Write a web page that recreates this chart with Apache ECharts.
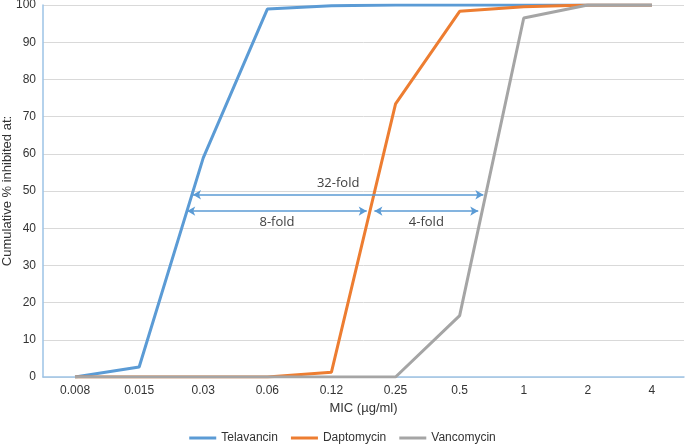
<!DOCTYPE html>
<html>
<head>
<meta charset="utf-8">
<script src="https://cdn.jsdelivr.net/npm/echarts@6/dist/echarts.min.js"></script>
<style>
  html, body { margin: 0; padding: 0; background: #fff; }
  #chart { width: 685px; height: 447px; }
</style>
</head>
<body>
<div id="chart"></div>
<script>
var micLabels = ['0.008', '0.015', '0.03', '0.06', '0.12', '0.25', '0.5', '1', '2', '4'];
var telavancin = [0, 2.7, 58.9, 98.9, 99.8, 100, 100, 100, 100, 100];
var daptomycin = [0, 0, 0, 0, 1.3, 73.4, 98.3, 99.5, 100, 100];
var vancomycin = [0, 0, 0, 0, 0, 0, 16.5, 96.5, 100, 100];

// fold-difference arrows, x in category index units
var folds = [
    { name: '32-fold', from: 1.84, to: 6.37, y: 49, pos: 'insideMiddleTop' },
    { name: '8-fold', from: 1.75, to: 4.55, y: 44.6, pos: 'insideMiddleBottom' },
    { name: '4-fold', from: 4.67, to: 6.29, y: 44.6, pos: 'insideMiddleBottom' }
];

var axisBlue = '#9DC3E6';
var textColor = '#333';

var chart = echarts.init(document.getElementById('chart'));

function lineSeries(name, data, color) {
    return {
        name: name,
        type: 'line',
        data: data,
        symbol: 'none',
        lineStyle: { color: color, width: 3 },
        itemStyle: { color: color },
        z: 3
    };
}

var option = {
    animation: false,
    textStyle: { fontFamily: 'Liberation Sans, Arial, sans-serif' },
    grid: { left: 43, right: 1, top: 5, bottom: 70, outerBoundsMode: 'none', containLabel: false },
    legend: {
        top: 427,
        left: 'center',
        icon: 'rect',
        itemWidth: 27,
        itemHeight: 3,
        itemGap: 13,
        textStyle: { color: textColor, fontSize: 12 },
        data: ['Telavancin', 'Daptomycin', 'Vancomycin']
    },
    xAxis: {
        type: 'category',
        data: micLabels,
        boundaryGap: true,
        name: 'MIC (\u00b5g/ml)',
        nameLocation: 'middle',
        nameGap: 25,
        nameMoveOverlap: false,
        nameTextStyle: { color: textColor, fontSize: 13 },
        axisLine: { lineStyle: { color: axisBlue, width: 1.5 } },
        axisTick: { show: false },
        axisLabel: { color: textColor, fontSize: 12, margin: 8 },
        splitLine: { show: false }
    },
    yAxis: {
        type: 'value',
        min: 0,
        max: 100,
        interval: 10,
        name: 'Cumulative % inhibited at:',
        nameLocation: 'middle',
        nameGap: 29,
        nameMoveOverlap: false,
        nameTextStyle: { color: textColor, fontSize: 13 },
        axisLine: { show: true, onZero: false, lineStyle: { color: axisBlue, width: 1.5 } },
        axisTick: { show: false },
        axisLabel: { color: textColor, fontSize: 12, margin: 7 },
        splitLine: { lineStyle: { color: '#D9D9D9' } }
    },
    series: [
        lineSeries('Telavancin', telavancin, '#5B9BD5'),
        lineSeries('Daptomycin', daptomycin, '#ED7D31'),
        lineSeries('Vancomycin', vancomycin, '#A5A5A5')
    ]
};

chart.setOption(option);

// pixel x for a fractional category index
function fracX(v) {
    var i = Math.floor(v);
    var a = chart.convertToPixel({ xAxisIndex: 0 }, micLabels[i]);
    var b = chart.convertToPixel({ xAxisIndex: 0 }, micLabels[i + 1]);
    return a + (b - a) * (v - i);
}

function pixY(v) {
    return chart.convertToPixel({ yAxisIndex: 0 }, v);
}

option.series.push({
    name: 'folds',
    type: 'line',
    data: [],
    silent: true,
    markLine: {
        silent: true,
        symbol: ['arrow', 'arrow'],
        symbolSize: [7, 8],
        lineStyle: { color: '#5B9BD5', width: 1.5, type: 'solid' },
        data: folds.map(function (f) {
            return [
                { x: fracX(f.from), y: pixY(f.y), name: f.name,
                  label: { show: true, formatter: f.name, position: f.pos,
                           color: '#404040', fontSize: 13,
                           fontFamily: 'Open Sans, Noto Sans, sans-serif', distance: 5 } },
                { x: fracX(f.to), y: pixY(f.y) }
            ];
        })
    }
});

chart.setOption(option);
</script>
</body>
</html>
